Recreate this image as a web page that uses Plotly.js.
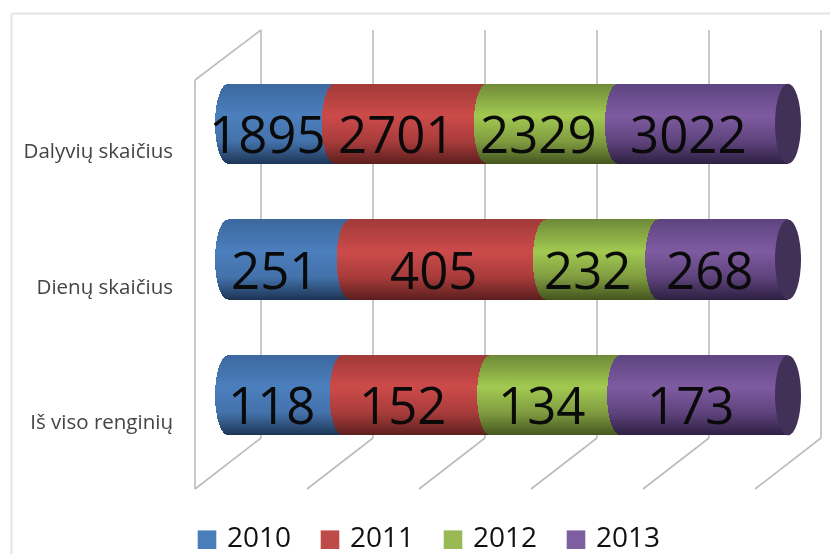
<!DOCTYPE html>
<html>
<head>
<meta charset="utf-8">
<script src="https://cdn.plot.ly/plotly-3.0.1.min.js"></script>
<style>
html,body{margin:0;padding:0;background:#fff;overflow:hidden}
#chart{width:830px;height:554px;filter:blur(0.55px)}
</style>
</head>
<body>
<div id="chart"></div>
<script>
var categories = ["Iš viso renginių", "Dienų skaičius", "Dalyvių skaičius"];
var years = ["2010", "2011", "2012", "2013"];
var v2010 = [118, 251, 1895];
var v2011 = [152, 405, 2701];
var v2012 = [134, 232, 2329];
var v2013 = [173, 268, 3022];
var seriesValues = [v2010, v2011, v2012, v2013];
var colors = ["#4a7ebb", "#be4b48", "#98b954", "#7d5fa0"];
var stops = [
  ["#3d689f", "#4b7fbd", "#4472ab", "#1d3555"],
  ["#a03a38", "#cc4b4a", "#a83c3b", "#5c1f1e"],
  ["#6f8a38", "#a2c951", "#7f9c40", "#44561f"],
  ["#5d4480", "#7f5ba2", "#5e437c", "#2e2042"]
];
var gridTicks = [0, 20, 40, 60, 80, 100];

var W = 830, H = 554, L = 190, R = 5, T = 56, B = 91;
var x0px = 228, pxPerPct = 5.6;
var plotW = W - L - R, plotH = H - T - B;
var depth = 33 / pxPerPct;
var xRange = [(L - x0px) / pxPerPct, (W - R - x0px) / pxPerPct];
function py(px) { return (H - B - px) / plotH; }
function ppx(px) { return (px - L) / plotW; }

var gridColor = "#bcbcbc";
function seg(xa, ya, xb, yb) {
  return {type: "line", layer: "below", xref: "x", yref: "paper", x0: xa, y0: py(ya), x1: xb, y1: py(yb),
          line: {color: gridColor, width: 1.6}};
}
var shapes = [];
gridTicks.forEach(function (t) {
  shapes.push(seg(t + depth, 30, t + depth, 438));
  shapes.push(seg(t + depth, 438, t - depth, 489));
});
shapes.push(seg(-depth, 80, -depth, 489));
shapes.push(seg(-depth, 80, depth, 30));
// outer chart frame
["h", "v"].forEach(function (d) {
  shapes.push({type: "line", layer: "below", xref: "paper", yref: "paper",
    x0: ppx(11.5), y0: py(13.5),
    x1: d === "h" ? ppx(830) : ppx(11.5), y1: d === "h" ? py(13.5) : py(554),
    line: {color: "#e4e4e4", width: 2}});
});
// end caps of the cylinders
categories.forEach(function (c, i) {
  shapes.push({type: "circle", layer: "above", xref: "x", yref: "y",
    x0: 100 - 13 / pxPerPct, x1: 100 + 13 / pxPerPct, y0: i - 0.295, y1: i + 0.295,
    fillcolor: "#413058", line: {width: 0}});
});

var annotations = [];
categories.forEach(function (c, i) {
  var total = seriesValues.reduce(function (s, a) { return s + a[i]; }, 0), cum = 0;
  seriesValues.forEach(function (a) {
    annotations.push({xref: "x", yref: "y", x: (cum + a[i] / 2) / total * 100, y: i,
      text: String(a[i]), showarrow: false, xshift: -14, yshift: -9,
      font: {family: "Open Sans", size: 51, color: "#0a0a0a"}});
    cum += a[i];
  });
});

var traces = years.map(function (y, k) {
  return {type: "bar", orientation: "h", name: y, y: categories, x: seriesValues[k],
          marker: {color: colors[k], line: {width: 0}}, hoverinfo: "skip"};
});

var layout = {
  width: W, height: H,
  margin: {l: L, r: R, t: T, b: B, autoexpand: false},
  paper_bgcolor: "#fff", plot_bgcolor: "rgba(0,0,0,0)",
  barmode: "stack", barnorm: "percent", bargap: 0.41,
  xaxis: {range: xRange, visible: false, fixedrange: true},
  yaxis: {type: "category", categoryorder: "array", categoryarray: categories, range: [-0.5, 2.5],
          tickmode: "array", tickvals: categories.map(function (c, i) { return i - 0.2; }), ticktext: categories,
          ticks: "", ticklen: 0, showgrid: false, zeroline: false, showline: false, ticklabelstandoff: 16,
          tickfont: {family: "Open Sans", size: 20.5, color: "#444"}, fixedrange: true},
  showlegend: true,
  legend: {orientation: "h", x: ppx(187), xanchor: "left", y: py(511), yanchor: "top",
           entrywidth: 78, entrywidthmode: "pixels", traceorder: "normal",
           font: {family: "Open Sans", size: 28, color: "#111"}},
  shapes: shapes, annotations: annotations
};

Plotly.newPlot("chart", traces, layout, {staticPlot: true, displayModeBar: false}).then(function (gd) {
  var svg = gd.querySelector(".main-svg");
  var NS = "http://www.w3.org/2000/svg";
  var defs = svg.querySelector("defs");
  stops.forEach(function (st, k) {
    var g = document.createElementNS(NS, "linearGradient");
    g.setAttribute("id", "cyl" + k);
    g.setAttribute("x1", "0"); g.setAttribute("y1", "0"); g.setAttribute("x2", "0"); g.setAttribute("y2", "1");
    [0, 0.4, 0.72, 1].forEach(function (o, j) {
      var s = document.createElementNS(NS, "stop");
      s.setAttribute("offset", o); s.setAttribute("stop-color", st[j]);
      g.appendChild(s);
    });
    defs.appendChild(g);
  });
  gd.querySelectorAll(".barlayer .trace.bars").forEach(function (tr, k) {
    tr.querySelectorAll(".point path").forEach(function (p) {
      var b = p.getBBox();
      var rx = 13;
      p.setAttribute("d", "M" + b.x + "," + b.y + "A" + rx + "," + (b.height / 2) + " 0 0 0 " + b.x + "," + (b.y + b.height) +
        "L" + (b.x + b.width) + "," + (b.y + b.height) + "L" + (b.x + b.width) + "," + b.y + "Z");
      p.style.fill = "url(#cyl" + k + ")";
    });
  });
  gd.querySelectorAll(".legend .legendpoints path").forEach(function (p) {
    p.setAttribute("transform", "translate(20,4) scale(1.55)");
  });
});
</script>
</body>
</html>
